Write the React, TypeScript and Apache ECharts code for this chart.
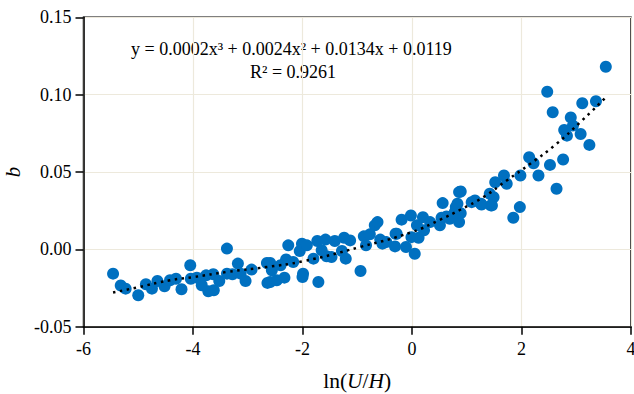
import React, { useEffect, useRef } from "react";
import * as echarts from "echarts";

// Observed points: ln(U/H) and b
const xValues: number[] = [
  -5.46, -5.32, -5.23, -5.0, -4.86, -4.75, -4.65, -4.52, -4.42, -4.31,
  -4.21, -4.05, -4.04, -3.93, -3.84, -3.76, -3.72, -3.62, -3.63, -3.52,
  -3.38, -3.38, -3.28, -3.18, -3.13, -3.04, -2.93, -2.65, -2.64, -2.59,
  -2.56, -2.59, -2.47, -2.33, -2.4, -2.3, -2.26, -2.17, -2.01, -2.05,
  -1.92, -1.99, -2.0, -1.8, -1.71, -1.73, -1.65, -1.58, -1.56, -1.47,
  -1.41, -1.28, -1.24, -1.21, -1.13, -0.94, -0.88, -0.84, -0.77, -0.68,
  -0.63, -0.58, -0.54, -0.47, -0.31, -0.28, -0.19, -0.11, -0.02, -0.01,
  0.05, 0.09, 0.12, 0.2, 0.22, 0.33, 0.51, 0.56, 0.54, 0.69,
  0.8, 0.86, 0.86, 0.89, 0.89, 1.09, 1.15, 1.27, 1.42, 1.46,
  1.49, 1.52, 1.68, 1.73, 1.85, 1.97, 1.98, 2.14, 2.22, 2.31,
  2.52, 2.64, 2.47, 2.57, 2.76, 2.78, 2.83, 2.9, 2.94, 3.08,
  3.11, 3.24, 3.36, 3.54, 1.44, 1.26, 0.83, 0.63, 0.78, -0.3,
];
const bValues: number[] = [
  -0.0157, -0.0234, -0.0254, -0.0297, -0.0226, -0.0254, -0.0205, -0.0239, -0.02, -0.019,
  -0.0258, -0.0103, -0.019, -0.0183, -0.0232, -0.0168, -0.0271, -0.0264, -0.0161, -0.0205,
  0.0005, -0.0157, -0.0161, -0.0092, -0.0157, -0.0205, -0.0131, -0.0088, -0.0217, -0.0088,
  -0.0135, -0.0211, -0.02, -0.0183, -0.0103, -0.0066, 0.0026, -0.0082, 0.0037, -0.0011,
  0.0026, -0.0157, -0.0179, -0.006, -0.0211, 0.0054, -0.0006, 0.0063, -0.0045, -0.005,
  0.0054, -0.0011, 0.0075, -0.006, 0.0058, -0.014, 0.0084, 0.0026, 0.0097, 0.0155,
  0.0176, 0.0063, 0.0037, 0.0047, 0.0019, 0.0101, 0.0192, 0.0015, 0.0219, 0.0079,
  -0.0028, 0.0155, 0.0075, 0.0208, 0.0123, 0.0176, 0.0155, 0.0299, 0.0204, 0.0198,
  0.0273, 0.037, 0.0176, 0.0234, 0.0374, 0.0305, 0.0316, 0.029, 0.0359, 0.0284,
  0.0337, 0.0434, 0.0477, 0.0424, 0.0204, 0.0273, 0.0477, 0.0595, 0.0557, 0.0477,
  0.0546, 0.0392, 0.1019, 0.0886, 0.0581, 0.0772, 0.0735, 0.0853, 0.08, 0.0746,
  0.0944, 0.0675, 0.0957, 0.118, 0.0284, 0.0295, 0.0295, 0.0213, 0.024, 0.0101,
];

// Trendline
const trendX: number[] = [-5.46, -5.03, -4.42, -3.99, -3.38, -2.65, -1.99, -0.95, 0, 0.51, 0.88, 1.3, 1.73, 2.16, 2.64, 3.07, 3.54];
const trendY: number[] = [-0.0279, -0.0247, -0.02, -0.0179, -0.0146, -0.0114, -0.0077, 0.0015, 0.0112, 0.0191, 0.0256, 0.0337, 0.0445, 0.0553, 0.0682, 0.0821, 0.0983];

const equationText = "y = 0.0002x\u00b3 + 0.0024x\u00b2 + 0.0134x + 0.0119";
const r2Text = "R\u00b2 = 0.9261";

const FONT = "Liberation Serif";

export default function App() {
  const ref = useRef<HTMLDivElement>(null);
  useEffect(() => {
    if (!ref.current) return;
    const chart = echarts.init(ref.current, null, { renderer: "svg" });
    const pts = xValues.map((x, i) => [x, bValues[i]]);
    const trend = trendX.map((x, i) => [x, trendY[i]]);
    chart.setOption({
      animation: false,
      backgroundColor: "#ffffff",
      textStyle: { fontFamily: FONT },
      grid: {
        left: 83.5,
        right: 3,
        top: 17.3,
        bottom: 67.3,
        containLabel: false,
        outerBoundsMode: "none",
        show: true,
        borderColor: "#000000",
        borderWidth: 1.5,
        backgroundColor: "transparent",
      },
      xAxis: {
        type: "value",
        min: -6,
        max: 4,
        interval: 2,
        name: "{n|ln(}{i|U}{n|/}{i|H}{n|)}",
        nameLocation: "middle",
        nameGap: 43,
        nameTextStyle: {
          rich: {
            n: { fontFamily: FONT, fontSize: 21.5, color: "#000" },
            i: { fontFamily: FONT, fontSize: 21.5, fontStyle: "italic", color: "#000" },
          },
        },
        axisLine: { show: true, onZero: false, lineStyle: { color: "#000", width: 1.5 } },
        axisTick: { show: true, length: 8, lineStyle: { color: "#000", width: 1.5 } },
        axisLabel: { color: "#000", fontFamily: FONT, fontSize: 18, margin: 13 },
        splitLine: { show: true, lineStyle: { color: "#ede9dc", width: 1.2 } },
      },
      yAxis: {
        type: "value",
        min: -0.05,
        max: 0.15,
        interval: 0.05,
        name: "b",
        nameLocation: "middle",
        nameGap: 58,
        nameRotate: 90,
        nameTextStyle: { fontFamily: FONT, fontSize: 21, fontStyle: "italic", color: "#000" },
        axisLine: { show: true, onZero: false, lineStyle: { color: "#000", width: 1.5 } },
        axisTick: { show: true, length: 8, lineStyle: { color: "#000", width: 1.5 } },
        axisLabel: {
          color: "#000",
          fontFamily: FONT,
          fontSize: 18,
          margin: 12,
          formatter: (v: number) => v.toFixed(2),
        },
        splitLine: { show: true, lineStyle: { color: "#ede9dc", width: 1.2 } },
      },
      series: [
        {
          type: "scatter",
          data: pts,
          symbol: "circle",
          symbolSize: 12,
          itemStyle: { color: "#0070c0", opacity: 1 },
          z: 2,
        },
        {
          type: "line",
          data: trend,
          smooth: true,
          showSymbol: false,
          symbol: "none",
          lineStyle: { color: "#000", width: 2.5, type: [2.5, 4.5], cap: "butt" },
          z: 3,
        },
      ],
      graphic: [
        {
          type: "text",
          left: 131,
          top: 40,
          style: { text: equationText, font: "18px 'Liberation Serif'", fill: "#000" },
        },
        {
          type: "text",
          left: 250,
          top: 63,
          style: { text: r2Text, font: "18px 'Liberation Serif'", fill: "#000" },
        },
      ],
    });
    return () => chart.dispose();
  }, []);
  return (
    <div
      ref={ref}
      style={{ position: "fixed", left: 0, top: 0, width: 634, height: 394 }}
    />
  );
}
